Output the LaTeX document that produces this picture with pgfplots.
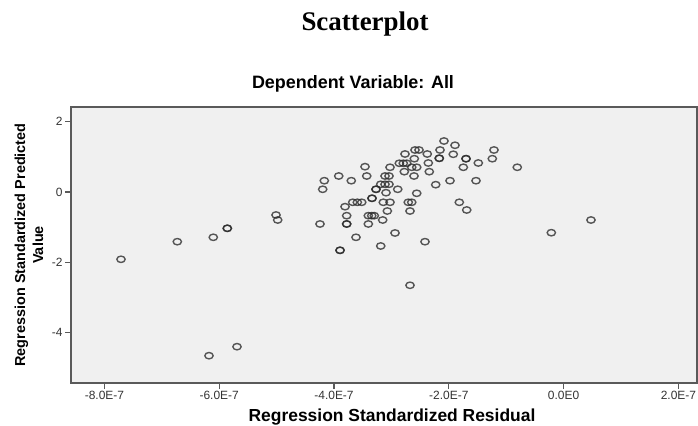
\documentclass[border=0pt]{standalone}
\usepackage{pgfplots}
\pgfplotsset{compat=1.18}
\usepackage{pgfplotstable}
\usepackage{fontspec}
\setmainfont{Liberation Sans}
\newfontfamily\titlefont{Liberation Serif}
\definecolor{bgc}{HTML}{F0F0F0}
\definecolor{axc}{HTML}{5A5A5A}
\definecolor{ptc}{HTML}{2A2A2A}
\pgfplotstableread{
x y
-7.711 -1.915
-6.730 -1.414
-6.103 -1.289
-5.859 -1.033
-5.859 -1.033
-5.010 -0.654
-4.981 -0.797
-6.178 -4.657
-5.690 -4.401
-1.213 1.195
-1.242 0.947
-0.807 0.703
-0.214 -1.158
0.477 -0.797
-2.084 1.451
-1.892 1.329
-2.153 1.195
-2.589 1.195
-2.519 1.195
-2.375 1.081
-2.763 1.081
-1.922 1.073
-2.166 0.959
-2.166 0.959
-1.700 0.947
-1.700 0.947
-1.486 0.825
-2.601 0.947
-2.862 0.817
-2.793 0.817
-2.733 0.817
-2.646 0.703
-2.559 0.703
-2.357 0.825
-1.747 0.703
-2.340 0.578
-2.775 0.578
-3.024 0.703
-3.460 0.720
-3.430 0.455
-3.918 0.455
-3.699 0.321
-4.169 0.321
-4.197 0.077
-3.111 0.455
-3.042 0.455
-2.606 0.455
-3.186 0.219
-3.111 0.219
-3.042 0.219
-3.268 0.077
-3.268 0.077
-3.094 -0.020
-2.890 0.077
-1.979 0.321
-1.526 0.321
-2.228 0.208
-2.559 -0.037
-3.338 -0.179
-3.338 -0.179
-3.674 -0.293
-3.594 -0.293
-3.517 -0.293
-3.808 -0.418
-3.141 -0.293
-3.024 -0.293
-2.706 -0.293
-2.646 -0.293
-1.817 -0.293
-1.688 -0.512
-3.071 -0.541
-2.676 -0.541
-3.779 -0.674
-3.402 -0.674
-3.343 -0.674
-3.298 -0.674
-3.152 -0.797
-4.244 -0.910
-3.779 -0.910
-3.779 -0.910
-3.402 -0.910
-2.937 -1.166
-3.617 -1.289
-3.186 -1.536
-3.895 -1.659
-3.895 -1.659
-2.415 -1.414
-2.676 -2.654
}\pts
\begin{document}
\begin{tikzpicture}
\path[use as bounding box] (0,0) rectangle (698bp,426bp);
\begin{axis}[
  at={(71bp,43bp)}, anchor=south west,
  scale only axis, width=626bp, height=276bp,
  xmin=-8.582, xmax=2.324, ymin=-5.434, ymax=2.418,
  axis background/.style={fill=bgc},
  axis line style={draw=axc, line width=1.5bp},
  tick style={draw=axc, line width=1.3bp},
  tick align=outside, major tick length=6bp,
  xtick pos=bottom, ytick pos=left,
  xtick={-8,-6,-4,-2,0,2},
  xticklabels={-8.0E-7,-6.0E-7,-4.0E-7,-2.0E-7,0.0E0,2.0E-7},
  ytick={-4,-2,0,2},
  yticklabels={-4,-2,0,2},
  tick label style={font=\fontsize{12}{14}\selectfont, text=black!80},
  xticklabel style={yshift=1bp},
  yticklabel style={xshift=1bp},
]
\addplot[only marks, mark=o, mark size=3.2bp,
  mark options={draw=ptc, line width=1.4bp, draw opacity=0.78},
  every mark/.append style={xscale=1.3}] table[x=x,y=y] {\pts};
\end{axis}
\node[font=\titlefont\bfseries\fontsize{27}{30}\selectfont, anchor=base] at (365bp,395bp) {Scatterplot};
\node[font=\bfseries\fontsize{18}{20}\selectfont, anchor=base] at (353bp,337bp) {Dependent Variable: All};
\node[font=\bfseries\fontsize{17.5}{20}\selectfont, anchor=base] at (392bp,5bp) {Regression Standardized Residual};
\node[font=\bfseries\fontsize{14.5}{18}\selectfont, rotate=90, align=center] at (29bp,181bp) {Regression Standardized Predicted\\Value};
\end{tikzpicture}
\end{document}
